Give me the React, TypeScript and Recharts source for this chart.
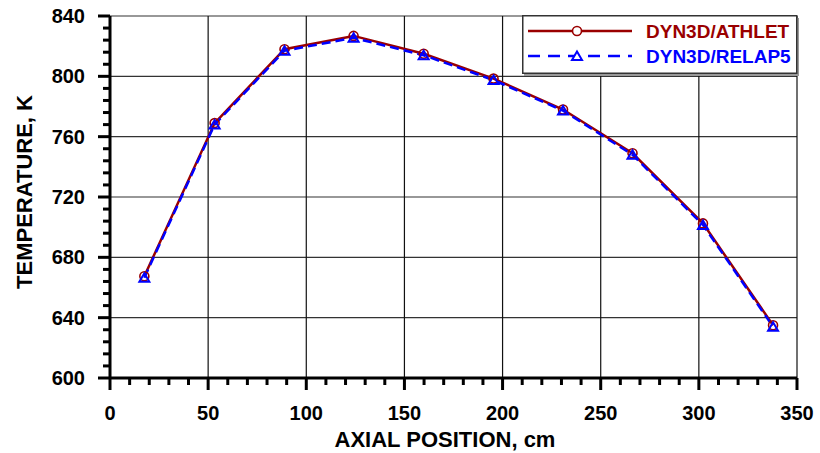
import React from 'react';
import { LineChart, Line, XAxis, YAxis, ReferenceLine, Legend } from 'recharts';

const positions = [17.5, 53.3, 88.9, 124.1, 159.8, 195.4, 230.8, 266.2, 302.1, 337.8];
const athlet = [667.5, 769, 818, 826.8, 815, 798.5, 778, 749, 702.5, 635];
const relap5 = [666.5, 768, 817, 825.5, 814, 797.5, 777.3, 748, 701.5, 634];
const xMajor = [0, 50, 100, 150, 200, 250, 300, 350];
const xTicks = Array.from({ length: 36 }, (_, i) => i * 10);
const yMajor = [600, 640, 680, 720, 760, 800, 840];
const yTicks = Array.from({ length: 31 }, (_, i) => 600 + i * 8);
const seriesNames = ['DYN3D/ATHLET', 'DYN3D/RELAP5'];

const data = positions.map((p, i) => ({ x: p, athlet: athlet[i], relap5: relap5[i] }));

const RED = '#9a0000';
const BLUE = '#0000ff';
const FONT = '"Liberation Sans", Arial, sans-serif';

const XTick = (props: any) => {
  const { x, y, payload } = props;
  const major = payload.value % 50 === 0;
  return (
    <g>
      <line x1={x} x2={x} y1={y} y2={y + (major ? 12 : 7)} stroke="#000" strokeWidth={3} />
      {major && (
        <text x={x} y={y + 42} textAnchor="middle" fontFamily={FONT} fontWeight="bold" fontSize={20} fill="#000">
          {payload.value}
        </text>
      )}
    </g>
  );
};

const YTick = (props: any) => {
  const { x, y, payload } = props;
  const major = payload.value % 40 === 0;
  return (
    <g>
      <line x1={x - (major ? 12 : 7)} x2={x} y1={y} y2={y} stroke="#000" strokeWidth={3} />
      {major && (
        <text x={x - 25} y={y + 7} textAnchor="end" fontFamily={FONT} fontWeight="bold" fontSize={20} fill="#000">
          {payload.value}
        </text>
      )}
    </g>
  );
};

const CircleDot = (props: any) => {
  const { cx, cy, index } = props;
  return <circle key={`c-${index}`} cx={cx} cy={cy} r={4.5} fill="none" stroke={RED} strokeWidth={1.6} />;
};

const TriDot = (props: any) => {
  const { cx, cy, index } = props;
  const d = `M${cx},${cy - 4.5} L${cx + 5},${cy + 4} L${cx - 5},${cy + 4} Z`;
  return <path key={`t-${index}`} d={d} fill="none" stroke={BLUE} strokeWidth={2} />;
};

const LegendBox = () => (
  <svg width={278} height={62} style={{ display: 'block' }}>
    <rect x={2} y={3} width={275} height={58} fill="#999" />
    <rect x={0.75} y={0.75} width={274} height={57.5} fill="#fff" stroke="#333" strokeWidth={1.5} />
    <line x1={6} x2={110} y1={16} y2={16} stroke={RED} strokeWidth={2.5} />
    <circle cx={55} cy={16} r={4.5} fill="#fff" stroke={RED} strokeWidth={1.6} />
    <text x={124} y={23} fontFamily={FONT} fontWeight="bold" fontSize={19} fill={RED}>{seriesNames[0]}</text>
    <line x1={6} x2={110} y1={41} y2={41} stroke={BLUE} strokeWidth={2.5} strokeDasharray="12 8" />
    <path d="M55,36.5 L60,45 L50,45 Z" fill="#fff" stroke={BLUE} strokeWidth={2} />
    <text x={124} y={48} fontFamily={FONT} fontWeight="bold" fontSize={19} fill={BLUE}>{seriesNames[1]}</text>
  </svg>
);

export default function App() {
  return (
    <div style={{ position: 'absolute', left: 0, top: 0, width: 820, height: 453, background: '#fff' }}>
      <LineChart width={820} height={453} data={data} margin={{ top: 16, right: 23, bottom: 0, left: 0 }}>
        <XAxis
          dataKey="x"
          type="number"
          domain={[0, 350]}
          ticks={xTicks}
          interval={0}
          tick={<XTick />}
          tickLine={false}
          tickSize={0}
          tickMargin={0}
          height={75}
          axisLine={false}
          label={{
            content: () => (
              <text x={445} y={447} textAnchor="middle" fontFamily={FONT} fontWeight="bold" fontSize={22} fill="#000">
                AXIAL POSITION, cm
              </text>
            ),
          }}
        />
        <YAxis
          type="number"
          domain={[600, 840]}
          ticks={yTicks}
          interval={0}
          tick={<YTick />}
          tickLine={false}
          tickSize={0}
          tickMargin={0}
          width={110}
          axisLine={false}
          allowDataOverflow
          label={{
            content: () => (
              <text
                x={32}
                y={192}
                transform="rotate(-90 32 192)"
                textAnchor="middle"
                fontFamily={FONT}
                fontWeight="bold"
                fontSize={22}
                fill="#000"
              >
                TEMPERATURE, K
              </text>
            ),
          }}
        />
        {yMajor.slice(1).map((v) => (
          <ReferenceLine key={`h${v}`} y={v} stroke="#333" strokeWidth={1.2} />
        ))}
        {xMajor.slice(1).map((v) => (
          <ReferenceLine key={`v${v}`} x={v} stroke="#111" strokeWidth={1.2} />
        ))}
        <ReferenceLine y={600} stroke="#000" strokeWidth={3} />
        <ReferenceLine x={0} stroke="#000" strokeWidth={3} />
        <Legend
          layout="vertical"
          align="center"
          verticalAlign="middle"
          wrapperStyle={{ position: 'absolute', left: 522, top: 15, width: 278, height: 62 }}
          content={() => <LegendBox />}
        />
        <Line
          type="linear"
          dataKey="athlet"
          name={seriesNames[0]}
          stroke={RED}
          strokeWidth={2.5}
          dot={<CircleDot />}
          isAnimationActive={false}
        />
        <Line
          type="linear"
          dataKey="relap5"
          name={seriesNames[1]}
          stroke={BLUE}
          strokeWidth={2.5}
          strokeDasharray="9 5"
          dot={<TriDot />}
          isAnimationActive={false}
        />
      </LineChart>
    </div>
  );
}
